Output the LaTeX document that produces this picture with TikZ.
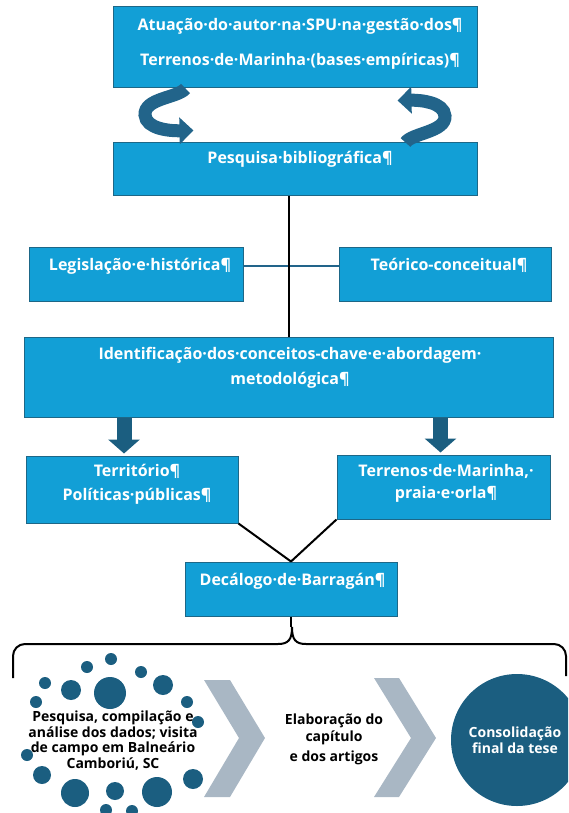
\documentclass[tikz,border=0pt]{standalone}
\usepackage{fontspec}
\setmainfont{Open Sans}
\usetikzlibrary{arrows.meta, positioning, calc}
\definecolor{boxblue}{HTML}{129FD6}
\definecolor{boxedge}{HTML}{1D6787}
\definecolor{deepteal}{HTML}{1B5E80}
\definecolor{ribbon}{HTML}{22648A}
\definecolor{chevgray}{HTML}{A9B7C4}

\begin{document}
\begin{tikzpicture}[x=1pt, y=-1pt,
  box/.style 2 args={
    draw=boxedge, line width=1pt, fill=boxblue,
    minimum width=#1pt, minimum height=#2pt, inner sep=0pt
  },
  btxt/.style={font=\bfseries\fontsize{16}{20}\selectfont, text=white, align=center, inner sep=0pt},
  dtxt/.style={font=\bfseries\fontsize{14}{15.6}\selectfont, text=black, align=center, inner sep=0pt},
  link/.style={line width=2pt, black},
  blk/.style={line width=15pt, deepteal, -{Triangle[length=14pt, width=31pt]}, shorten >=2pt},
  curl/.style={line width=13pt, ribbon, -{Triangle[length=14pt, width=26pt]}},
  brace/.style={line width=2pt, black},
]

% Page
\clip (0,0) rectangle (568,813);

% Boxes
\node[box={364}{81}] (atuacao) at (295,47.5) {};
\node[box={364}{52}] (pesq) at (295,169) {};
\node[box={214}{54}] (legis) at (136,274) {};
\node[box={212}{54}] (teor) at (445,274) {};
\node[box={529}{80}] (ident) at (288.5,377) {};
\node[box={212}{67}] (territ) at (132,489.5) {};
\node[box={213}{64}] (terren) at (443.5,487) {};
\node[box={212}{54}] (decal) at (291,589) {};

% Box texts
\node[btxt] at ($(atuacao.north)+(5,37.5)$)
  {Atuação·do·autor·na·SPU·na·gestão·dos¶\\[15pt]
   Terrenos·de·Marinha·(bases·empíricas)¶};
\node[btxt] at ($(pesq.north)+(5,17)$) {Pesquisa·bibliográfica¶};
\node[btxt] at ($(legis.north)+(4,19.5)$) {Legislação·e·histórica¶};
\node[btxt] at ($(teor.north)+(4,19)$) {Teórico-conceitual¶};
\node[btxt] at ($(ident.north)+(1.5,31.5)$)
  {Identificação·dos·conceitos-chave·e·abordagem·\\[5pt]
   metodológica¶};
\node[btxt] at ($(territ.north)+(5,29)$)
  {Território¶\\[4pt]Políticas·públicas¶};
\node[btxt] at ($(terren.north)+(2.5,29)$)
  {Terrenos·de·Marinha,·\\[2pt]praia·e·orla¶};
\node[btxt] at ($(decal.north)+(1.5,20)$) {Decálogo·de·Barragán¶};

% Curved arrows between the first two boxes
\coordinate (c1) at ($(atuacao.south west)+(73,0)$);
\coordinate (c2) at ($(pesq.north west)+(81,-12)$);
\draw[curl] (c1) .. controls (178,98) and (144,98) .. (145,115)
  .. controls (146,129) and (170,131) .. (c2);
\coordinate (c3) at ($(pesq.north east)+(-72,0)$);
\coordinate (c4) at ($(atuacao.south east)+(-80,12)$);
\draw[curl] (c3) .. controls (412,133) and (446,132) .. (445,116)
  .. controls (444,102) and (420,100) .. (c4);

% Connectors
\draw[line width=1.4pt, ribbon] ([yshift=8pt]legis.east) -- ([yshift=8pt]teor.west);
\draw[link] (pesq.south -| ident.north) -- (ident.north);
\draw[blk] ([xshift=-8pt]territ.north |- ident.south) -- ([xshift=-8pt]territ.north);
\draw[blk] ([xshift=-3pt]terren.north |- ident.south) -- ([xshift=-3pt]terren.north);
\draw[link] (territ.south east) -- (decal.north);
\draw[link] (terren.south west) -- (decal.north);

% Brace
\coordinate (brtip) at (292,627);
\draw[link] (decal.south) -- (decal.south |- brtip);
\draw[brace] (13,678) -- (13,656) to[out=90, in=180] (25,644) -- (278,644)
  .. controls (289,644) and (292,639) .. (brtip)
  .. controls (292,639) and (295,644) .. (306,644) -- (554,644)
  to[out=0, in=90] (566,656) -- (566,676);

% Ring of dots
\foreach \x/\y/\r in {111/659/6, 87/667/6, 141/672/6, 45/683/6, 71/690/10,
  110/693/16, 163/685/10, 36/702/6, 187/702/6, 198/722/6, 27/755/6,
  42/775/9, 193/779/10, 75/793/14, 115/791/9, 157/792/15, 106/810/6, 132/811/6}
  \fill[deepteal] (\x,\y) circle[radius=\r pt];
\node[dtxt] (coleta) at (113,740.5)
  {Pesquisa, compilação e\\análise dos dados; visita\\de campo em Balneário\\Camboriú, SC};

% Chevrons
\fill[chevgray] (204,680) -- (230,680) -- (265,738) -- (230,797) -- (204,797) -- (239,738) -- cycle;
\fill[chevgray] (374,678) -- (399,678) -- (436,738) -- (399,797) -- (374,797) -- (411,738) -- cycle;

\node[dtxt] (elab) at (334,739) {Elaboração do\\[1.5pt]capítulo\\[4.5pt]e dos artigos};

% Final circle
\node[circle, fill=deepteal, minimum size=132pt, inner sep=0pt] (final) at (517,740) {};
\node[dtxt, text=white] at ($(final.center)+(-2,0)$) {Consolidação\\final da tese};

\end{tikzpicture}
\end{document}
